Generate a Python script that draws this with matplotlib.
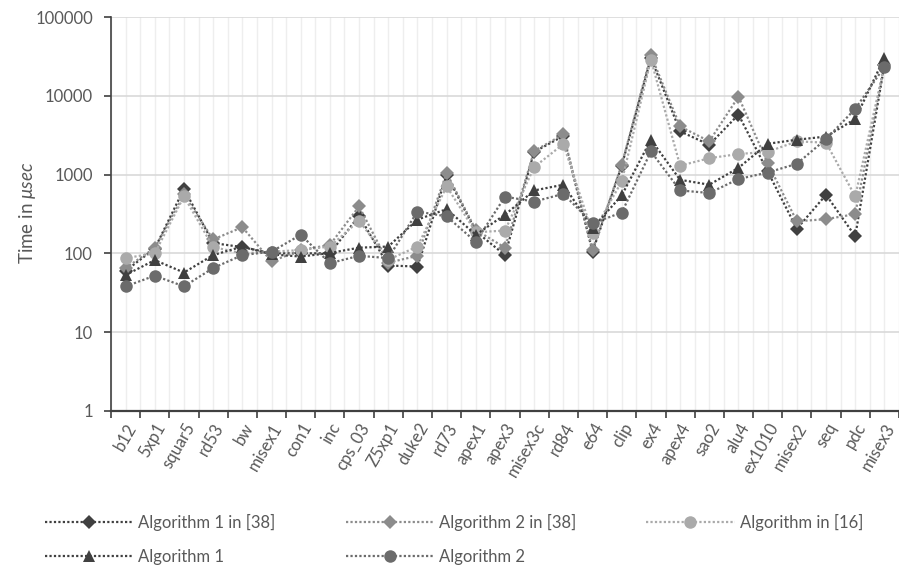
import matplotlib

matplotlib.use("Agg")
import matplotlib.pyplot as plt  # noqa: E402
import matplotlib.transforms as mtransforms  # noqa: E402
import numpy as np  # noqa: E402
from matplotlib.lines import Line2D  # noqa: E402

plt.rcParams["font.family"] = ["Lato", "DejaVu Sans"]
plt.rcParams["mathtext.fontset"] = "custom"
plt.rcParams["mathtext.rm"] = "Lato"
plt.rcParams["mathtext.it"] = "Lato:italic"

# benchmark circuits
circuits = [
    "b12", "5xp1", "squar5", "rd53", "bw", "misex1", "con1", "inc", "cps_03",
    "Z5xp1", "duke2", "rd73", "apex1", "apex3", "misex3c", "rd84", "e64",
    "clip", "ex4", "apex4", "sao2", "alu4", "ex1010", "misex2", "seq", "pdc",
    "misex3",
]

# run times in microseconds
alg1_ref38 = [60, 115, 660, 135, 120, 100, 100, 100, 300, 70, 68, 1000, 190,
              95, 1950, 3100, 105, 1300, 30500, 3550, 2400, 5800, 1100, 205,
              555, 165, 25000]
alg2_ref38 = [65, 117, 560, 150, 215, 79, 110, 128, 395, 76, 93, 1050, 198,
              118, 2000, 3250, 110, 1340, 33000, 4100, 2650, 9800, 1400, 255,
              272, 315, 25000]
alg_ref16 = [87, 100, 530, 120, 100, 105, 110, 122, 260, 83, 122, 710, 185,
             195, 1250, 2450, 181, 820, 29000, 1300, 1620, 1830, 1950, 2650,
             2550, 530, 24500]
alg1 = [53, 82, 57, 95, 122, 97, 91, 101, 118, 122, 268, 365, 172, 310, 630,
        745, 210, 545, 2780, 860, 745, 1220, 2470, 2780, 3050, 5100, 30700]
alg2 = [38, 52, 38, 65, 95, 105, 172, 75, 93, 87, 340, 295, 140, 525, 455,
        570, 241, 330, 1970, 630, 585, 880, 1065, 1375, 2830, 6850, 23500]

series = [
    ("Algorithm 1 in [38]", alg1_ref38, "D", "#404040", 7.5),
    ("Algorithm 2 in [38]", alg2_ref38, "D", "#8c8c8c", 7.5),
    ("Algorithm in [16]", alg_ref16, "o", "#aaaaaa", 9),
    ("Algorithm 1", alg1, "^", "#404040", 9),
    ("Algorithm 2", alg2, "o", "#6b6b6b", 9),
]

fig = plt.figure(figsize=(8.99, 5.68), dpi=100)
ax = fig.add_axes([111 / 899, 1 - 410.7 / 568, 788 / 899, 393.4 / 568])

x = np.arange(len(circuits))
for label, vals, marker, color, ms in series:
    ax.plot(x, vals, linestyle=(0, (1, 1)), linewidth=1.6, color=color,
            marker=marker, markersize=ms, markeredgewidth=0,
            label=label, zorder=3)

ax.set_yscale("log")
ax.set_ylim(1, 100000)
ax.set_xlim(-0.5, len(circuits) - 0.5)
ax.set_yticks([1, 10, 100, 1000, 10000, 100000])
ax.set_yticklabels(["1", "10", "100", "1000", "10000", "100000"])
ax.yaxis.set_minor_locator(matplotlib.ticker.NullLocator())

ax.set_xticks(x)
ax.set_xticklabels(circuits, rotation=60, ha="right", va="top",
                   rotation_mode="anchor")
# nudge the slanted labels a little to the left, as in the original
shift = mtransforms.ScaledTranslation(-6 / 100, 0, fig.dpi_scale_trans)
for lbl in ax.get_xticklabels():
    lbl.set_transform(lbl.get_transform() + shift)
ax.set_xticks(np.arange(len(circuits) + 1) - 0.5, minor=True)
ax.tick_params(axis="x", which="major", length=0, pad=7, labelsize=12,
               labelcolor="#595959")
ax.tick_params(axis="x", which="minor", length=5, width=1.2,
               color="#404040", direction="out")
ax.tick_params(axis="y", length=5, width=1.2, color="#404040",
               labelsize=12, labelcolor="#595959", pad=8)

ax.grid(True, axis="y", color="#d9d9d9", linewidth=1.2, zorder=0)
ax.grid(True, axis="x", which="both", color="#eeeeee", linewidth=1.0,
        zorder=0)

for side in ["top", "right"]:
    ax.spines[side].set_visible(False)
ax.spines["left"].set_color("#404040")
ax.spines["left"].set_linewidth(1.2)
ax.spines["bottom"].set_color("#404040")
ax.spines["bottom"].set_linewidth(1.6)

fig.text(28 / 899, 1 - 213 / 568, r"Time in $\mathit{\mu sec}$",
         rotation=90, ha="center", va="center", fontsize=13.5,
         color="#595959")

handles = []
for label, vals, marker, color, ms in series:
    handles.append(Line2D([], [], linestyle=(0, (1, 1)), linewidth=1.6,
                          color=color, marker=marker, markersize=ms,
                          markeredgewidth=0, label=label))
order = [0, 3, 1, 4, 2]
fig.legend([handles[i] for i in order], [series[i][0] for i in order],
           ncol=3, loc="upper left", bbox_to_anchor=(30 / 899, 1 - 499 / 568),
           frameon=False, fontsize=12, labelcolor="#595959",
           handlelength=5.3, handletextpad=0.3, columnspacing=4.2,
           labelspacing=1.05)

fig.savefig("out.png", dpi=100)
